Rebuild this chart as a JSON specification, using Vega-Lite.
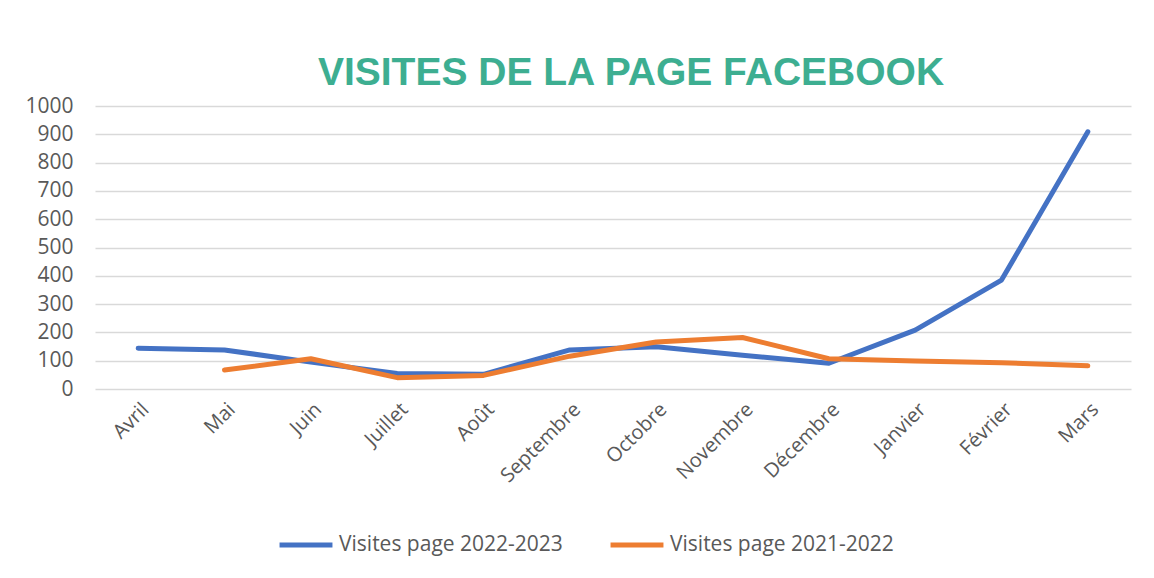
{
  "$schema": "https://vega.github.io/schema/vega-lite/v6.json",
  "autosize": {"type": "none"},
  "width": 1036,
  "height": 283,
  "padding": {"left": 95, "top": 106, "right": 23, "bottom": 189},
  "background": "white",
  "title": {
    "text": "VISITES DE LA PAGE FACEBOOK",
    "font": "Liberation Sans",
    "fontSize": 39,
    "fontWeight": "bold",
    "color": "#3DAE91",
    "anchor": "middle",
    "dx": 18,
    "offset": 2
  },
  "data": {
    "values": [
      {"mois": "Avril", "serie": "Visites page 2022-2023", "visites": 144},
      {"mois": "Mai", "serie": "Visites page 2022-2023", "visites": 138},
      {"mois": "Juin", "serie": "Visites page 2022-2023", "visites": 95},
      {"mois": "Juillet", "serie": "Visites page 2022-2023", "visites": 55},
      {"mois": "Août", "serie": "Visites page 2022-2023", "visites": 52},
      {"mois": "Septembre", "serie": "Visites page 2022-2023", "visites": 138},
      {"mois": "Octobre", "serie": "Visites page 2022-2023", "visites": 149},
      {"mois": "Novembre", "serie": "Visites page 2022-2023", "visites": 119},
      {"mois": "Décembre", "serie": "Visites page 2022-2023", "visites": 91},
      {"mois": "Janvier", "serie": "Visites page 2022-2023", "visites": 208},
      {"mois": "Février", "serie": "Visites page 2022-2023", "visites": 385},
      {"mois": "Mars", "serie": "Visites page 2022-2023", "visites": 909},
      {"mois": "Mai", "serie": "Visites page 2021-2022", "visites": 67},
      {"mois": "Juin", "serie": "Visites page 2021-2022", "visites": 107},
      {"mois": "Juillet", "serie": "Visites page 2021-2022", "visites": 40},
      {"mois": "Août", "serie": "Visites page 2021-2022", "visites": 48},
      {"mois": "Septembre", "serie": "Visites page 2021-2022", "visites": 116},
      {"mois": "Octobre", "serie": "Visites page 2021-2022", "visites": 166},
      {"mois": "Novembre", "serie": "Visites page 2021-2022", "visites": 182},
      {"mois": "Décembre", "serie": "Visites page 2021-2022", "visites": 107},
      {"mois": "Janvier", "serie": "Visites page 2021-2022", "visites": 99},
      {"mois": "Février", "serie": "Visites page 2021-2022", "visites": 93},
      {"mois": "Mars", "serie": "Visites page 2021-2022", "visites": 82}
    ]
  },
  "mark": {"type": "line", "strokeWidth": 5, "strokeCap": "round", "strokeJoin": "round"},
  "encoding": {
    "x": {
      "field": "mois",
      "type": "ordinal",
      "sort": ["Avril", "Mai", "Juin", "Juillet", "Août", "Septembre", "Octobre", "Novembre", "Décembre", "Janvier", "Février", "Mars"],
      "scale": {"type": "point", "padding": 0.5},
      "axis": {
        "title": null,
        "labelAngle": -45,
        "labelFont": "Open Sans",
        "labelFontSize": 20,
        "labelColor": "#595959",
        "labelPadding": 10,
        "ticks": false,
        "domain": false,
        "grid": false
      }
    },
    "y": {
      "field": "visites",
      "type": "quantitative",
      "scale": {"domain": [0, 1000], "nice": false},
      "axis": {
        "title": null,
        "format": "d",
        "values": [0, 100, 200, 300, 400, 500, 600, 700, 800, 900, 1000],
        "labelFont": "Open Sans",
        "labelFontSize": 21,
        "labelColor": "#595959",
        "labelPadding": 22,
        "ticks": false,
        "domain": false,
        "grid": true,
        "gridColor": "#D9D9D9",
        "gridWidth": 1.5
      }
    },
    "color": {
      "field": "serie",
      "type": "nominal",
      "scale": {"domain": ["Visites page 2022-2023", "Visites page 2021-2022"], "range": ["#4472C4", "#ED7D31"]},
      "legend": {
        "title": null,
        "orient": "none",
        "direction": "horizontal",
        "legendX": 182,
        "legendY": 410,
        "symbolType": "stroke",
        "symbolSize": 2800,
        "symbolStrokeWidth": 5,
        "labelFont": "Open Sans",
        "labelFontSize": 21,
        "labelLimit": 400,
        "labelColor": "#595959",
        "labelOffset": 4,
        "columnPadding": 37
      }
    }
  },
  "config": {"view": {"stroke": null}}
}
